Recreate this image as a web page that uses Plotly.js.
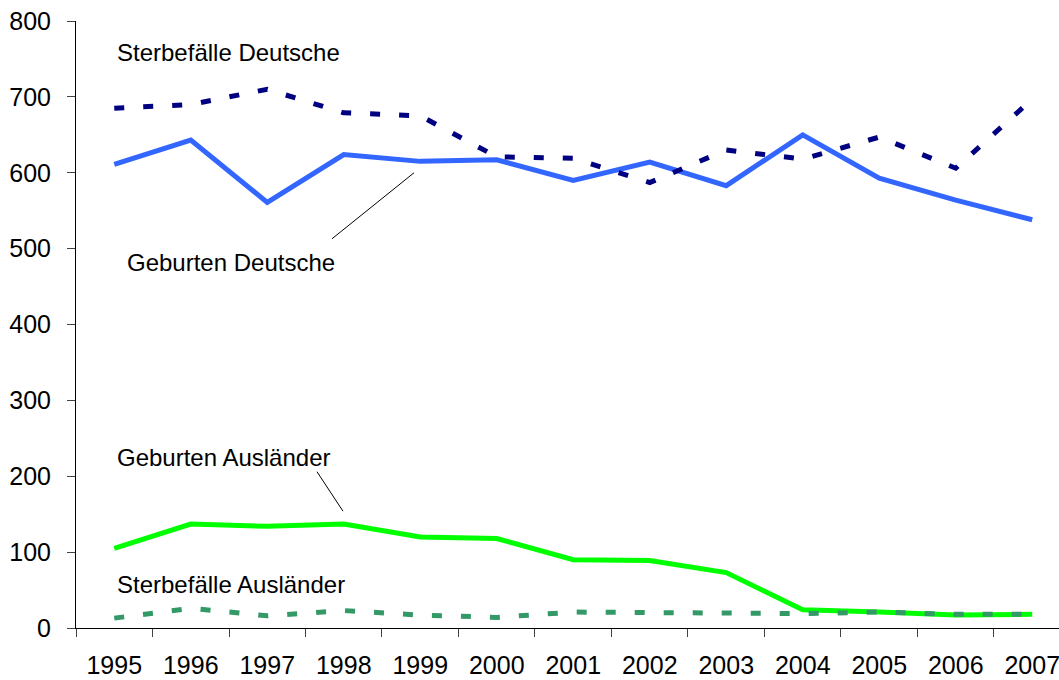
<!DOCTYPE html>
<html>
<head>
<meta charset="utf-8">
<script src="https://cdn.plot.ly/plotly-3.0.1.min.js"></script>
<style>
  html, body { margin: 0; padding: 0; background: #fff; }
  #chart { width: 1059px; height: 680px; }
</style>
</head>
<body>
<div id="chart"></div>
<script>
const years = ["1995", "1996", "1997", "1998", "1999", "2000", "2001", "2002", "2003", "2004", "2005", "2006", "2007"];

const geburtenDeutsche = [611, 643, 561, 624, 615, 617, 590, 614, 583, 650, 593, 564, 538];
const sterbefaelleDeutsche = [685, 690, 710, 679, 675, 621, 619, 587, 630, 618, 647, 606, 697];
const geburtenAuslaender = [105, 137, 134, 137, 120, 118, 90, 89, 73, 24, 21, 17, 18];
const sterbefaelleAuslaender = [13, 26, 16, 23, 17, 14, 21, 20, 19, 19, 21, 18, 18];

const font = "Liberation Sans, Arial, sans-serif";

function line(y, color, dash) {
    return {
        x: years,
        y: y,
        type: "scatter",
        mode: "lines",
        line: { color: color, width: 5, dash: dash || "solid" },
        hoverinfo: "skip"
    };
}

const data = [
    line(geburtenDeutsche, "#3366FF"),
    line(geburtenAuslaender, "#00FF00"),
    line(sterbefaelleDeutsche, "#000080", "10px,19px"),
    line(sterbefaelleAuslaender, "#339966", "10px,19px")
];

function label(text, x, y) {
    return {
        text: text, x: x, y: y, xref: "x", yref: "y",
        xanchor: "left", yanchor: "middle", showarrow: false,
        font: { family: font, size: 24, color: "#000" }
    };
}

// leader lines from the labels to their curves
function leader(x0, y0, x1, y1) {
    return {
        type: "line", xref: "x", yref: "y",
        x0: x0, y0: y0, x1: x1, y1: y1,
        line: { color: "#000", width: 1 }
    };
}

const layout = {
    width: 1059,
    height: 680,
    margin: { l: 76, r: 0, t: 21, b: 52 },
    paper_bgcolor: "#fff",
    plot_bgcolor: "#fff",
    showlegend: false,
    font: { family: font, size: 25, color: "#000" },
    xaxis: {
        type: "category",
        range: [-0.5, 12.35],
        showgrid: false,
        zeroline: false,
        showline: true,
        linecolor: "#000",
        linewidth: 1,
        ticks: "outside",
        tickson: "boundaries",
        ticklen: 8,
        tickcolor: "#444",
        ticklabelstandoff: 15,
        tickfont: { family: font, size: 25, color: "#000" }
    },
    yaxis: {
        range: [0, 800],
        dtick: 100,
        showgrid: false,
        zeroline: false,
        showline: true,
        linecolor: "#000",
        linewidth: 1,
        ticks: "outside",
        ticklen: 8,
        tickcolor: "#444",
        ticklabelstandoff: 11,
        tickfont: { family: font, size: 25, color: "#000" }
    },
    annotations: [
        label("Sterbefälle Deutsche", 0.01, 759),
        label("Geburten Deutsche", 0.14, 482),
        label("Geburten Ausländer", 0.01, 225),
        label("Sterbefälle Ausländer", 0.01, 57)
    ],
    shapes: [
        leader(2.847, 513, 3.919, 600),
        leader(2.650, 206, 2.990, 154)
    ]
};

Plotly.newPlot("chart", data, layout, { displayModeBar: false, staticPlot: true });
</script>
</body>
</html>
